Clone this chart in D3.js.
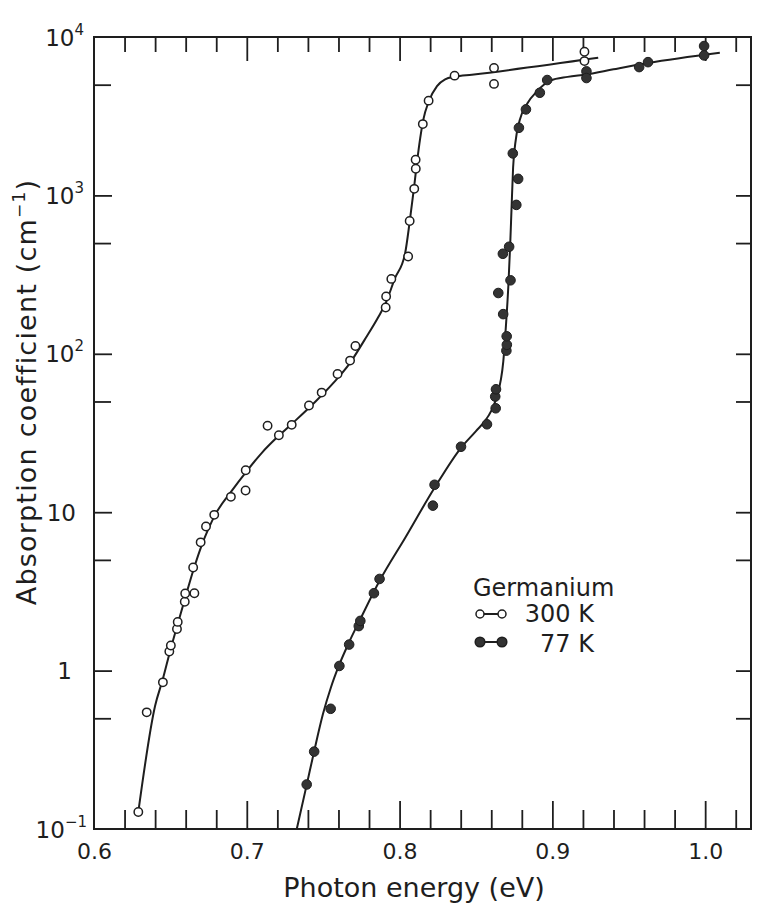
<!DOCTYPE html>
<html><head><meta charset="utf-8">
<script src="https://cdn.jsdelivr.net/npm/d3@7"></script>
<style>body{margin:0;background:#fff}</style>
</head><body>
<svg id="c" width="758" height="909"></svg>
<script>
// ---------- data ----------
const xTicksMajor = [0.6, 0.7, 0.8, 0.9, 1.0];
const xTickLabels = ["0.6", "0.7", "0.8", "0.9", "1.0"];
const yDecades = [0.1, 1, 10, 100, 1000, 10000];
const yTickLabels = [["10", "\u22121"], ["1", ""], ["10", ""], ["10", "2"], ["10", "3"], ["10", "4"]];
const yMinorTicks = [0.5, 5, 50, 500, 5000];

// 300 K measured points (open circles)
const e300 = [0.629, 0.6345, 0.6451, 0.6493, 0.6503, 0.6543, 0.6548, 0.6594, 0.6597, 0.6657,
  0.6649, 0.6698, 0.6733, 0.6787, 0.6896, 0.6992, 0.6993, 0.7136, 0.7210, 0.7294,
  0.7407, 0.7490, 0.7594, 0.7676, 0.7711, 0.7909, 0.7912, 0.7946, 0.8056, 0.8066,
  0.8096, 0.8106, 0.8105, 0.8152, 0.8190, 0.836, 0.8618, 0.8618, 0.921, 0.921];
const a300 = [0.128, 0.545, 0.843, 1.32, 1.44, 1.83, 2.03, 2.72, 3.07, 3.08,
  4.48, 6.45, 8.13, 9.62, 12.5, 13.7, 18.4, 35.1, 30.6, 35.6,
  47.2, 56.9, 74.6, 90.6, 112, 196, 230, 297, 411, 690,
  1100, 1473, 1680, 2820, 3963, 5702, 6382, 5058, 8072, 7047];

// 77 K measured points (filled circles)
const e77 = [0.7392, 0.7441, 0.7549, 0.7606, 0.767, 0.7733, 0.7743, 0.7832, 0.7869, 0.8218,
  0.8229, 0.8402, 0.8572, 0.8629, 0.8626, 0.8631, 0.8699, 0.8702, 0.8701, 0.8678,
  0.8646, 0.8726, 0.8676, 0.8717, 0.8764, 0.8776, 0.8741, 0.8781, 0.8827, 0.8918,
  0.8966, 0.9223, 0.9223, 0.9568, 0.9626, 0.9993, 0.9993];
const a77 = [0.191, 0.308, 0.574, 1.07, 1.46, 1.91, 2.06, 3.08, 3.79, 11.0,
  14.9, 25.9, 35.9, 45.3, 53.7, 59.7, 104.7, 114, 129, 178,
  242, 291, 428, 474, 871, 1272, 1841, 2671, 3491, 4446,
  5350, 6067, 5508, 6457, 6938, 8770, 7655];

// fitted curves
const fit300E = [0.629, 0.640, 0.645, 0.650, 0.655, 0.660, 0.665, 0.670, 0.675, 0.680,
  0.690, 0.700, 0.710, 0.720, 0.730, 0.745, 0.757, 0.767, 0.777, 0.786,
  0.791, 0.7968, 0.8036, 0.8066, 0.8096, 0.8115, 0.8135, 0.8155, 0.819, 0.8245,
  0.8298, 0.8363, 0.8473, 0.930];
const fit300A = [0.128, 0.60, 0.88, 1.35, 2.0, 2.95, 4.3, 6.0, 7.9, 9.9,
  13.6, 18.2, 23.8, 29.8, 36.5, 50, 66, 86, 122, 170,
  210, 297, 430, 680, 1150, 1650, 2300, 3000, 3900, 4900,
  5400, 5620, 5780, 7390];
const fit77E = [0.7327, 0.7392, 0.7441, 0.7498, 0.755, 0.7602, 0.7675, 0.7747, 0.787, 0.8037,
  0.8224, 0.8402, 0.850, 0.857, 0.8632, 0.8679, 0.8696, 0.8712, 0.8724, 0.8733,
  0.8743, 0.8757, 0.8786, 0.8837, 0.890, 0.8986, 0.910, 0.9223, 0.940, 0.9626, 1.0096];
const fit77A = [0.10, 0.19, 0.31, 0.53, 0.78, 1.07, 1.55, 2.15, 3.7, 6.9,
  14.0, 25.5, 32.5, 39, 52, 90, 150, 270, 490, 840,
  1500, 2120, 2980, 3820, 4550, 5300, 5600, 5800, 6250, 6850, 7950];

const legendTitle = "Germanium";
const seriesNames = ["300 K", "77 K"];
const xTitle = "Photon energy (eV)";
const yTitle = ["Absorption coefficient (cm", "\u22121", ")"];

// ---------- drawing ----------
const svg = d3.select("#c");
const ink = "#1e1e1e";
const font = "'DejaVu Sans', Verdana, sans-serif";
const x = d3.scaleLinear().domain([0.6, 1.03]).range([94, 751]);
const y = d3.scaleLog().domain([0.1, 10000]).range([829, 37]);
const X0 = x.range()[0], X1 = x.range()[1], Y0 = y.range()[0], Y1 = y.range()[1];

const xMinor = d3.range(0.62, 1.021, 0.02).filter(v => Math.abs(v * 10 - Math.round(v * 10)) > 1e-6);
const xMajorInner = xTicksMajor.filter(v => v > 0.6);

function ticks(axisFn, scale, values, size, tr) {
  const g = svg.append("g").attr("transform", tr)
    .call(axisFn(scale).tickValues(values).tickSize(size).tickFormat(""));
  g.select(".domain").remove();
  g.selectAll("line").attr("stroke", ink).attr("stroke-width", 1.8);
}
ticks(d3.axisBottom, x, xMinor, -19, `translate(0,${Y0})`);
ticks(d3.axisBottom, x, xMajorInner, -28, `translate(0,${Y0})`);
ticks(d3.axisTop, x, xMinor, -15, `translate(0,${Y1})`);
ticks(d3.axisTop, x, xMajorInner, -24, `translate(0,${Y1})`);
ticks(d3.axisLeft, y, yDecades.slice(1, 5), -18, `translate(${X0},0)`);
ticks(d3.axisLeft, y, yMinorTicks, -17, `translate(${X0},0)`);
ticks(d3.axisRight, y, yDecades.slice(1, 5), -15, `translate(${X1},0)`);
ticks(d3.axisRight, y, yMinorTicks, -15, `translate(${X1},0)`);

// frame
svg.append("rect").attr("x", X0).attr("y", Y1).attr("width", X1 - X0).attr("height", Y0 - Y1)
  .attr("fill", "none").attr("stroke", ink).attr("stroke-width", 2);

// x tick labels
const gx = svg.append("g").attr("transform", `translate(0,${Y0})`)
  .call(d3.axisBottom(x).tickValues(xTicksMajor).tickSize(0).tickPadding(14)
    .tickFormat((d, i) => xTickLabels[i]));
gx.select(".domain").remove();
gx.selectAll("text").attr("font-family", font).attr("font-size", 22).attr("fill", ink);

// y tick labels
yDecades.forEach((v, i) => {
  const [base, sup] = yTickLabels[i];
  const gap = sup ? (i === 0 ? 7 : 10) : (base === "1" ? 22 : 18);
  const t = svg.append("text").attr("x", X0 - gap).attr("y", y(v) + 8.5)
    .attr("text-anchor", "end").attr("font-family", font).attr("font-size", 23).attr("fill", ink);
  t.append("tspan").text(base);
  if (sup) t.append("tspan").attr("font-size", 15).attr("dy", -11).text(sup);
});

// axis titles
svg.append("text").attr("x", 414).attr("y", 897).attr("text-anchor", "middle")
  .attr("font-family", font).attr("font-size", 27).attr("fill", ink).text(xTitle);
const yt = svg.append("text").attr("transform", "translate(36,392) rotate(-90)")
  .attr("text-anchor", "middle").attr("font-family", font).attr("font-size", 27)
  .attr("letter-spacing", 1.2).attr("fill", ink);
yt.append("tspan").text(yTitle[0]);
yt.append("tspan").attr("font-size", 17).attr("dy", -11).text(yTitle[1]);
yt.append("tspan").attr("dy", 11).text(yTitle[2]);

// fitted curves
const line = d3.line().x(d => x(d[0])).y(d => y(d[1])).curve(d3.curveMonotoneX);
[[fit300E, fit300A], [fit77E, fit77A]].forEach(([E, A]) => {
  svg.append("path").datum(E.map((e, i) => [e, A[i]])).attr("d", line)
    .attr("fill", "none").attr("stroke", ink).attr("stroke-width", 2);
});

// points
svg.append("g").selectAll("circle").data(e300.map((e, i) => [e, a300[i]])).join("circle")
  .attr("cx", d => x(d[0])).attr("cy", d => y(d[1])).attr("r", 4.2)
  .attr("fill", "#fff").attr("stroke", ink).attr("stroke-width", 1.5);
svg.append("g").selectAll("circle").data(e77.map((e, i) => [e, a77[i]])).join("circle")
  .attr("cx", d => x(d[0])).attr("cy", d => y(d[1])).attr("r", 4.8)
  .attr("fill", "#333").attr("stroke", ink).attr("stroke-width", 1);

// legend
const lg = svg.append("g").attr("font-family", font).attr("fill", ink);
lg.append("text").attr("x", 473).attr("y", 596).attr("font-size", 24).text(legendTitle);
[[614, 622, "#fff", 4], [642, 652, "#333", 4.8]].forEach(([ly, ty, fill, r], i) => {
  lg.append("line").attr("x1", 480).attr("x2", 502).attr("y1", ly).attr("y2", ly)
    .attr("stroke", ink).attr("stroke-width", 2);
  [480, 502].forEach(cx => lg.append("circle").attr("cx", cx).attr("cy", ly).attr("r", r)
    .attr("fill", fill).attr("stroke", ink).attr("stroke-width", 1.5));
  lg.append("text").attr("x", 594).attr("y", ty).attr("text-anchor", "end")
    .attr("font-size", 24).text(seriesNames[i]);
});
</script>
</body></html>
